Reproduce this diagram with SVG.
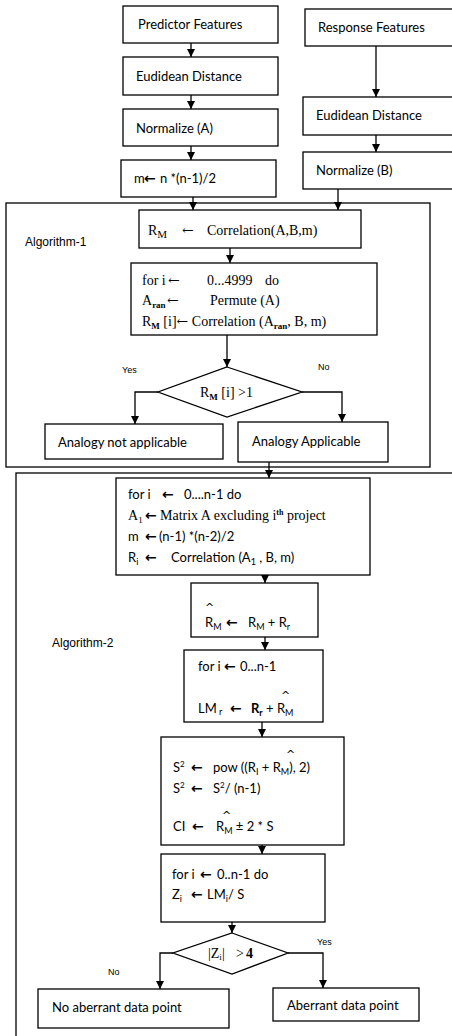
<svg xmlns="http://www.w3.org/2000/svg" width="452" height="1036" viewBox="0 0 452 1036">
  <style>
    .box { fill: #fff; stroke: #000; stroke-width: 1.3; }
    .frame { fill: none; stroke: #000; stroke-width: 1.3; }
    .conn { fill: none; stroke: #000; stroke-width: 1.3; marker-end: url(#ah); }
    .cal { font-family: Lato, "Open Sans", sans-serif; font-size: 13px; fill: #000; }
    .tnr { font-family: "Liberation Serif", "Times New Roman", serif; font-size: 14px; fill: #000; }
    .ari { font-family: "Liberation Sans", Arial, sans-serif; font-size: 12px; fill: #000; }
    .lbl { font-family: "Liberation Sans", Arial, sans-serif; font-size: 9px; fill: #000; }
    .sub { font-size: 9px; }
    .hat { font-family: "DejaVu Sans", sans-serif; font-size: 11px; fill: #000; }
    /* heavy arrow glyph used in the sans-serif pseudo-code */
    .arr { font-family: "DejaVu Sans", sans-serif; font-size: 14px; font-weight: bold; }
    /* thin arrow glyph used in the serif pseudo-code */
    .arrt { font-family: "DejaVu Serif", serif; font-size: 14px; }
  </style>
  <defs>
    <marker id="ah" markerUnits="userSpaceOnUse" markerWidth="9" markerHeight="9" refX="8" refY="4" orient="auto">
      <path d="M0,0 L8,4 L0,8 z" fill="#000"/>
    </marker>
  </defs>

  <!-- enclosing frames for the two algorithms -->
  <g id="algorithm1-frame">
    <rect class="frame" x="6" y="203" width="424" height="264"/>
    <text class="ari" x="25" y="246">Algorithm-1</text>
  </g>
  <g id="algorithm2-frame">
    <rect class="frame" x="16" y="473" width="460" height="600"/>
    <text class="ari" x="52" y="647">Algorithm-2</text>
  </g>

  <!-- connectors -->
  <g id="connectors">
    <line class="conn" x1="191" y1="43" x2="191" y2="57"/>
    <line class="conn" x1="191" y1="95" x2="191" y2="109"/>
    <line class="conn" x1="191" y1="146" x2="191" y2="160"/>
    <line class="conn" x1="376" y1="46" x2="376" y2="97"/>
    <line class="conn" x1="376" y1="135" x2="376" y2="152"/>
    <line class="conn" x1="193" y1="197" x2="193" y2="210"/>
    <line class="conn" x1="338" y1="189" x2="338" y2="210"/>
    <line class="conn" x1="230" y1="248" x2="230" y2="263"/>
    <line class="conn" x1="227" y1="335" x2="227" y2="367"/>
    <polyline class="conn" points="158,392 135,392 135,424"/>
    <polyline class="conn" points="302,392 342,392 342,422"/>
    <line class="conn" x1="269" y1="462" x2="269" y2="478"/>
    <line class="conn" x1="265" y1="575" x2="265" y2="583"/>
    <line class="conn" x1="265" y1="637" x2="265" y2="650"/>
    <line class="conn" x1="262" y1="722" x2="262" y2="737"/>
    <line class="conn" x1="262" y1="845" x2="262" y2="854"/>
    <line class="conn" x1="232" y1="922" x2="232" y2="933"/>
    <polyline class="conn" points="173,953 160,953 160,989"/>
    <polyline class="conn" points="288,953 323,953 323,988"/>
    <text class="lbl" x="122" y="373">Yes</text>
    <text class="lbl" x="318" y="370">No</text>
    <text class="lbl" x="108" y="975">No</text>
    <text class="lbl" x="317" y="945">Yes</text>
  </g>

  <!-- input pipeline -->
  <g id="predictor-features">
    <rect class="box" x="123" y="6" width="155" height="37"/>
    <text class="cal" x="138" y="29">Predictor Features</text>
  </g>
  <g id="euclidean-a">
    <rect class="box" x="123" y="57" width="155" height="38"/>
    <text class="cal" x="136" y="81">Eudidean Distance</text>
  </g>
  <g id="normalize-a">
    <rect class="box" x="123" y="109" width="155" height="37"/>
    <text class="cal" x="136" y="133">Normalize (A)</text>
  </g>
  <g id="pair-count">
    <rect class="box" x="121" y="160" width="155" height="37"/>
    <text class="cal" x="134" y="183">m<tspan class="arr" x="144">←</tspan><tspan x="160">n *(n-1)/2</tspan></text>
  </g>
  <g id="response-features">
    <rect class="box" x="305" y="9" width="160" height="37"/>
    <text class="cal" x="318" y="32">Response Features</text>
  </g>
  <g id="euclidean-b">
    <rect class="box" x="303" y="97" width="160" height="38"/>
    <text class="cal" x="316" y="120">Eudidean Distance</text>
  </g>
  <g id="normalize-b">
    <rect class="box" x="303" y="152" width="160" height="37"/>
    <text class="cal" x="316" y="175">Normalize (B)</text>
  </g>

  <!-- algorithm 1 -->
  <g id="correlation">
    <rect class="box" x="139" y="210" width="222" height="38"/>
    <text class="tnr" font-size="16" x="148" y="235">R<tspan font-size="11" dy="3">M</tspan><tspan class="arrt" x="182" dy="-3">←</tspan><tspan x="207">Correlation(A,B,m)</tspan></text>
  </g>
  <g id="permutation-loop">
    <rect class="box" x="131" y="263" width="246" height="72"/>
    <text class="tnr" x="142" y="285">for i<tspan class="arrt" x="168">←</tspan><tspan x="207">0...4999</tspan><tspan x="265">do</tspan></text>
    <text class="tnr" x="142" y="305">A<tspan class="sub" font-weight="bold" dy="3">ran</tspan><tspan class="arrt" dy="-3" x="167">←</tspan><tspan x="210">Permute (A)</tspan></text>
    <text class="tnr" x="142" y="326">R<tspan class="sub" font-weight="bold" dy="3">M</tspan><tspan dy="-3"> [i]</tspan><tspan class="arrt">←</tspan><tspan> Correlation (A</tspan><tspan class="sub" font-weight="bold" dy="3">ran</tspan><tspan dy="-3">, B, m)</tspan></text>
  </g>
  <g id="significance-test">
    <polygon class="box" points="227,367 302,392 227,417 158,392"/>
    <text class="tnr" x="200" y="397">R<tspan class="sub" font-weight="bold" dy="3">M</tspan><tspan dy="-3"> [i] &gt;1</tspan></text>
  </g>
  <g id="analogy-not-applicable">
    <rect class="box" x="45" y="424" width="178" height="35"/>
    <text class="cal" x="58" y="447">Analogy not applicable</text>
  </g>
  <g id="analogy-applicable">
    <rect class="box" x="238" y="422" width="150" height="40"/>
    <text class="cal" x="252" y="446">Analogy Applicable</text>
  </g>

  <!-- algorithm 2 -->
  <g id="jackknife-loop">
    <rect class="box" x="116" y="478" width="254" height="97"/>
    <text class="cal" x="128" y="499">for i<tspan class="arr" x="162">←</tspan><tspan x="184">0....n-1 do</tspan></text>
    <text class="tnr" x="128" y="520">A<tspan class="sub" dy="3">1</tspan><tspan class="arr" dy="-3" x="145">←</tspan><tspan x="160">Matrix A excluding i</tspan><tspan font-size="8" font-weight="bold" dy="-5">th</tspan><tspan dy="5"> project</tspan></text>
    <text class="cal" x="128" y="541">m<tspan class="arr" x="145">←</tspan><tspan x="159">(n-1) *(n-2)/2</tspan></text>
    <text class="cal" x="128" y="562">R<tspan class="sub" dy="3">i</tspan><tspan class="arr" dy="-3" x="145">←</tspan><tspan x="171">Correlation (A</tspan><tspan class="sub" dy="3">1</tspan><tspan dy="-3"> , B, m)</tspan></text>
  </g>
  <g id="mean-correlation">
    <rect class="box" x="191" y="583" width="127" height="54"/>
    <text class="hat" x="205" y="611">^</text>
    <text class="cal" font-size="14" x="205" y="627">R<tspan class="sub" dy="3">M</tspan><tspan class="arr" dy="-3" x="226">←</tspan><tspan x="248">R</tspan><tspan class="sub" dy="3">M</tspan><tspan dy="-3"> + R</tspan><tspan class="sub" dy="3">r</tspan></text>
  </g>
  <g id="leverage-loop">
    <rect class="box" x="184" y="650" width="139" height="72"/>
    <text class="cal" x="198" y="671">for i<tspan class="arr" x="224">←</tspan><tspan x="240">0...n-1</tspan></text>
    <text class="hat" x="281" y="699">^</text>
    <text class="cal" x="198" y="713">LM<tspan class="sub" dy="2"> r</tspan><tspan class="arr" dy="-2" x="230">←</tspan><tspan x="251" font-weight="bold">R</tspan><tspan class="sub" font-weight="bold" dy="3">r</tspan><tspan dy="-3"> + R</tspan><tspan class="sub" dy="3">M</tspan></text>
  </g>
  <g id="variance">
    <rect class="box" x="161" y="737" width="183" height="108"/>
    <text class="hat" x="286" y="758">^</text>
    <text class="cal" x="173" y="772">S<tspan font-size="8" dy="-5">2</tspan><tspan class="arr" dy="5" x="191">←</tspan><tspan x="213">pow ((R</tspan><tspan class="sub" dy="3">I</tspan><tspan dy="-3"> + R</tspan><tspan class="sub" dy="3">M</tspan><tspan dy="-3">), 2)</tspan></text>
    <text class="cal" x="173" y="793">S<tspan font-size="8" dy="-5">2</tspan><tspan class="arr" dy="5" x="191">←</tspan><tspan x="213">S</tspan><tspan font-size="8" dy="-5">2</tspan><tspan dy="5">/ (n-1)</tspan></text>
    <text class="hat" x="222" y="819">^</text>
    <text class="cal" x="173" y="831">CI<tspan class="arr" x="192">←</tspan><tspan x="216">R</tspan><tspan class="sub" dy="3">M</tspan><tspan dy="-3"> ± 2 * S</tspan></text>
  </g>
  <g id="z-score-loop">
    <rect class="box" x="161" y="854" width="164" height="68"/>
    <text class="cal" font-size="15" x="172" y="879">for i<tspan class="arr" x="200">←</tspan><tspan x="217">0..n-1 do</tspan></text>
    <text class="cal" font-size="15" x="172" y="899">Z<tspan class="sub" dy="3">i</tspan><tspan class="arr" dy="-3" x="191">←</tspan><tspan x="207">LM</tspan><tspan class="sub" dy="3">i</tspan><tspan dy="-3">/ S</tspan></text>
  </g>
  <g id="outlier-test">
    <polygon class="box" points="232,933 288,953 232,974 173,953"/>
    <text class="tnr" font-size="13" x="208" y="958">|Z<tspan class="sub" dy="2">i</tspan><tspan dy="-2">|</tspan><tspan x="236">&gt;</tspan><tspan x="246" font-weight="bold">4</tspan></text>
  </g>
  <g id="no-aberrant">
    <rect class="box" x="38" y="989" width="191" height="39"/>
    <text class="cal" x="52" y="1012">No aberrant data point</text>
  </g>
  <g id="aberrant">
    <rect class="box" x="273" y="988" width="146" height="33"/>
    <text class="cal" x="287" y="1010">Aberrant data point</text>
  </g>
</svg>
